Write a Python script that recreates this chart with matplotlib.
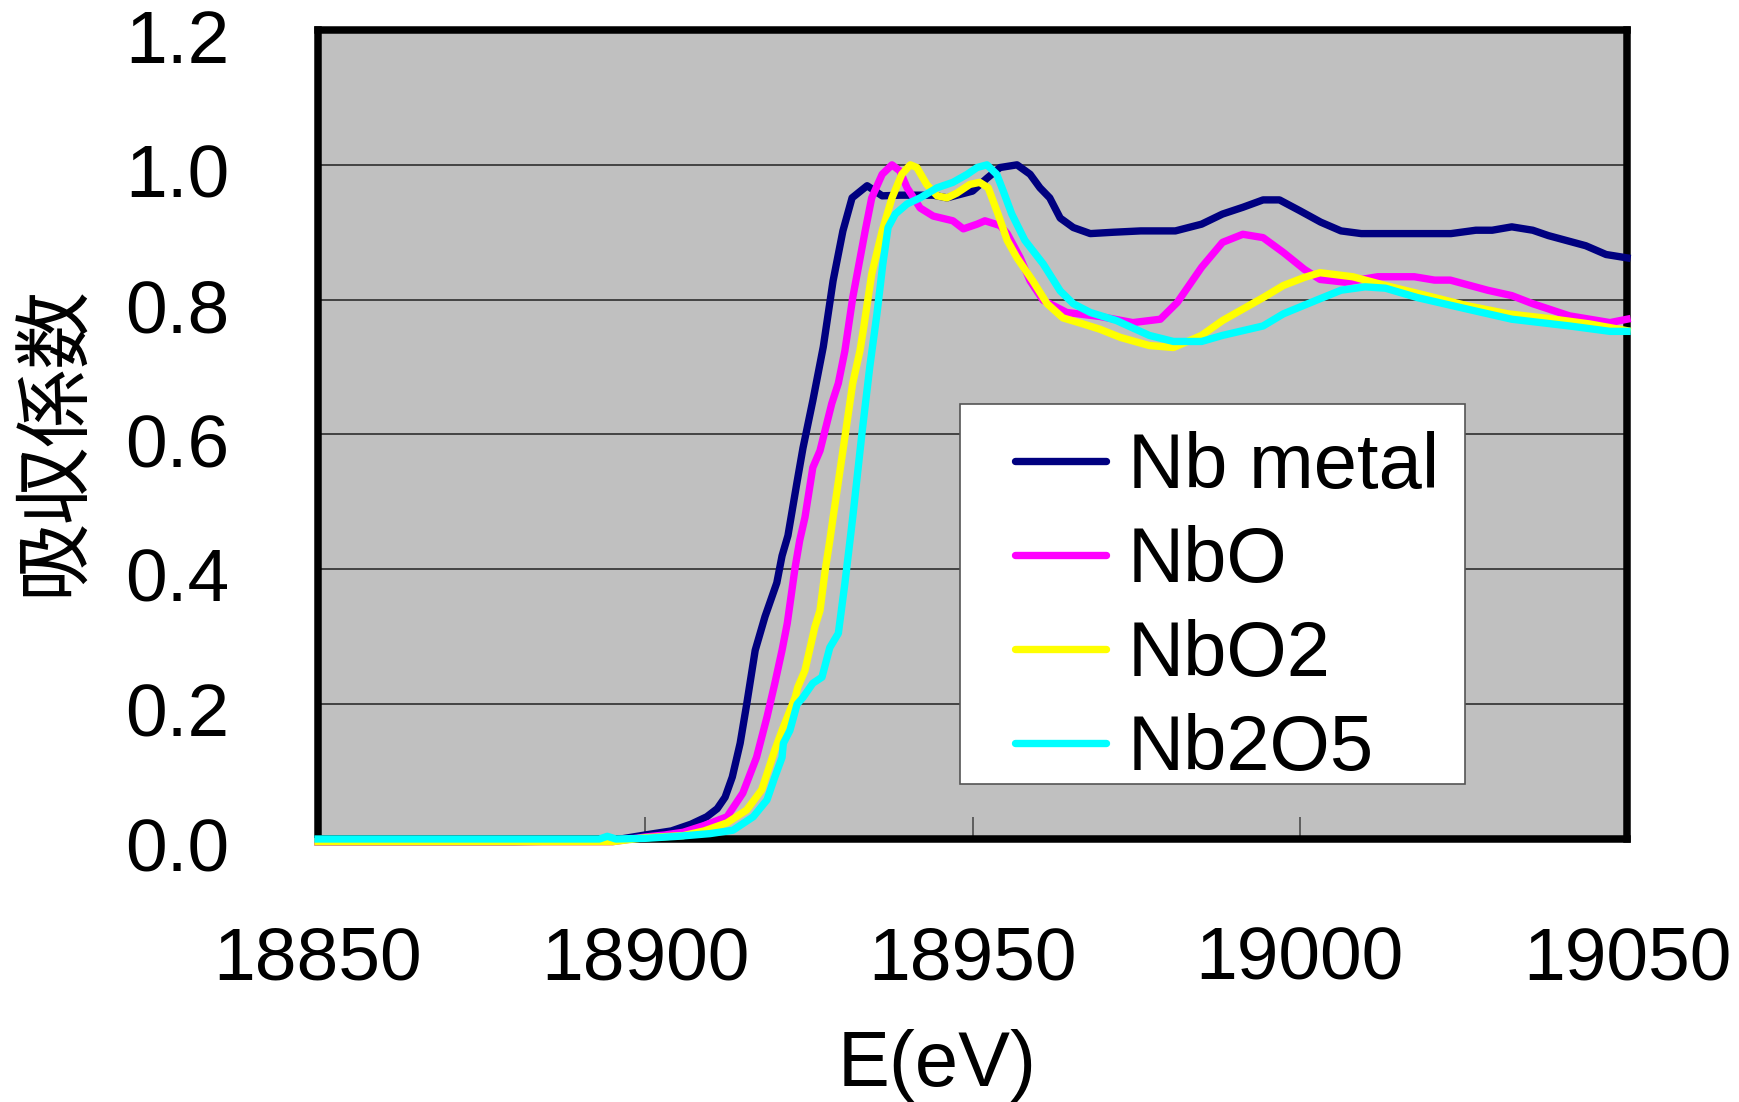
import numpy as np
import matplotlib
matplotlib.use("Agg")
import matplotlib.pyplot as plt
import matplotlib.transforms as mtransforms
from matplotlib.patches import Rectangle

plt.rcParams['font.family'] = ['Liberation Sans', 'Noto Sans CJK JP', 'DejaVu Sans']

# Nb metal
e_metal = [18850, 18880, 18895, 18900, 18904, 18907, 18909.4, 18911, 18912.2, 18913.3,
           18914.5, 18915.5, 18916.8, 18918.3, 18920.1, 18920.9, 18921.8, 18923.2, 18924.1, 18925.6,
           18927.2, 18928.7, 18930.2, 18931.6, 18933.9, 18936.2, 18939, 18944, 18946.1, 18950,
           18952.2, 18954.2, 18956.8, 18958.8, 18960.3, 18961.8, 18963.4, 18965.4, 18968, 18971.5,
           18975.7, 18981, 18985, 18988.2, 18991.3, 18994.4, 18996.9, 19000, 19003.2, 19006.3,
           19009.4, 19023.1, 19026.9, 19029.4, 19032.4, 19035.6, 19038, 19043.7, 19046.8, 19050]
mu_metal = [-0.004, -0.004, -0.002, 0.006, 0.012, 0.022, 0.033, 0.045, 0.062, 0.092,
            0.142, 0.2, 0.28, 0.33, 0.38, 0.42, 0.45, 0.53, 0.58, 0.65,
            0.73, 0.828, 0.902, 0.951, 0.969, 0.954, 0.955, 0.955, 0.951, 0.961,
            0.98, 0.996, 1.0, 0.986, 0.966, 0.951, 0.921, 0.907, 0.898, 0.9,
            0.902, 0.902, 0.912, 0.927, 0.937, 0.948, 0.948, 0.932, 0.915, 0.902,
            0.898, 0.898, 0.903, 0.903, 0.908, 0.903, 0.895, 0.880, 0.867, 0.862]

# NbO
e_nbo = [18850, 18895, 18900, 18903, 18905.8, 18909, 18912.5, 18914.9, 18917, 18918.6,
         18919.8, 18920.9, 18921.7, 18922.9, 18923.6, 18924.4, 18925.6, 18926.7, 18928.5, 18929.5,
         18930.5, 18931.7, 18933.6, 18934.6, 18936.2, 18937.7, 18938.9, 18940, 18942, 18944,
         18947, 18948.6, 18950.7, 18951.9, 18954.2, 18955.3, 18957.3, 18958.8, 18960.8, 18964.4,
         18969.5, 18974.5, 18978.7, 18981.3, 18985, 18988.2, 18991.3, 18994.4, 18997.5, 19000.7,
         19003.1, 19006.9, 19011.9, 19017.5, 19020.6, 19023, 19028.7, 19032.4, 19035.6, 19041.2,
         19047.4, 19050]
mu_nbo = [-0.004, -0.004, 0.003, 0.006, 0.01, 0.02, 0.033, 0.068, 0.121, 0.181,
          0.231, 0.28, 0.32, 0.403, 0.443, 0.477, 0.551, 0.576, 0.646, 0.676,
          0.724, 0.803, 0.902, 0.951, 0.986, 1.0, 0.991, 0.966, 0.936, 0.924,
          0.917, 0.905, 0.912, 0.917, 0.910, 0.898, 0.862, 0.828, 0.799, 0.781,
          0.775, 0.766, 0.771, 0.796, 0.848, 0.885, 0.897, 0.892, 0.870, 0.845,
          0.830, 0.826, 0.834, 0.834, 0.829, 0.829, 0.814, 0.806, 0.794, 0.776,
          0.766, 0.771]

# NbO2
e_nbo2 = [18850, 18895, 18900, 18905.8, 18909, 18912.5, 18915.5, 18917.8, 18919.8, 18920.9,
          18922.9, 18923.3, 18924.4, 18925.9, 18926.7, 18927.5, 18928.2, 18928.7, 18930.2, 18931.7,
          18932.8, 18933.3, 18934.6, 18936.2, 18937.7, 18939.2, 18940.5, 18941.5, 18943, 18944.6,
          18946.1, 18947.6, 18949.6, 18951.1, 18952.4, 18953.9, 18955.3, 18956.8, 18959.2, 18961.4,
          18963.8, 18966.9, 18969.5, 18972.6, 18977, 18980.7, 18985, 18988.2, 18994.4, 18997.5,
          19000.7, 19003.1, 19008.1, 19013.1, 19019.4, 19025.6, 19031.8, 19038.1, 19044.3, 19050]
mu_nbo2 = [-0.004, -0.004, 0.002, 0.005, 0.012, 0.024, 0.043, 0.073, 0.132, 0.161,
           0.21, 0.225, 0.25, 0.314, 0.339, 0.399, 0.443, 0.477, 0.576, 0.676,
           0.724, 0.754, 0.838, 0.902, 0.951, 0.986, 1.0, 0.996, 0.971, 0.954,
           0.951, 0.958, 0.971, 0.974, 0.966, 0.927, 0.888, 0.862, 0.828, 0.794,
           0.773, 0.764, 0.756, 0.744, 0.732, 0.729, 0.747, 0.769, 0.803, 0.821,
           0.833, 0.840, 0.834, 0.821, 0.806, 0.791, 0.779, 0.772, 0.764, 0.754]

# Nb2O5
e_nb2o5 = [18850, 18885, 18893, 18894.2, 18895.5, 18900, 18905, 18909.9, 18913.4, 18916.5,
           18918.6, 18919.8, 18920.9, 18921.1, 18922.1, 18923.2, 18924.1, 18925.6, 18927, 18928.2,
           18929.5, 18930.5, 18931.7, 18933.1, 18934.3, 18935.4, 18936.3, 18937.1, 18938.2, 18940,
           18942, 18944.6, 18947, 18949.2, 18950.7, 18952.2, 18953.7, 18954.7, 18956, 18958,
           18960.8, 18963.4, 18965.4, 18968, 18972, 18977, 18980.7, 18985, 18988.2, 18994.4,
           18997.5, 19002.5, 19006.3, 19010, 19013.1, 19018, 19025.6, 19032.4, 19041.2, 19047.4,
           19050]
mu_nb2o5 = [0, 0, 0, 0.004, 0, 0.001, 0.004, 0.008, 0.013, 0.033,
            0.058, 0.092, 0.121, 0.142, 0.161, 0.2, 0.21, 0.231, 0.24, 0.284,
            0.305, 0.379, 0.477, 0.601, 0.70, 0.779, 0.853, 0.907, 0.927, 0.942,
            0.951, 0.966, 0.974, 0.986, 0.996, 1.0, 0.986, 0.961, 0.927, 0.888,
            0.853, 0.813, 0.794, 0.781, 0.769, 0.747, 0.738, 0.738, 0.747, 0.761,
            0.779, 0.799, 0.814, 0.819, 0.817, 0.803, 0.786, 0.771, 0.761, 0.753,
            0.753]

series = [
    ("Nb metal", e_metal, mu_metal, "#000080"),
    ("NbO", e_nbo, mu_nbo, "#FF00FF"),
    ("NbO2", e_nbo2, mu_nbo2, "#FFFF00"),
    ("Nb2O5", e_nb2o5, mu_nb2o5, "#00FFFF"),
]

x_ticks = [18850, 18900, 18950, 19000, 19050]
y_ticks = [0.0, 0.2, 0.4, 0.6, 0.8, 1.0, 1.2]

fig = plt.figure(figsize=(17.39, 11.02), dpi=100)
ax = fig.add_axes([318 / 1739, 1 - 839 / 1102, 1309 / 1739, 809 / 1102])
ax.set_facecolor("#C0C0C0")

for name, e, mu, col in series:
    ax.plot(e, mu, color=col, lw=5.3, label=name, solid_joinstyle="round", zorder=3, clip_on=False)

ax.set_xlim(18850, 19050)
ax.set_ylim(0, 1.2)
ax.set_xticks(x_ticks)
ax.set_yticks(y_ticks)
ax.set_yticklabels([f"{v:.1f}" for v in y_ticks])
ax.grid(axis="y", color="#222222", lw=1.1)
ax.set_axisbelow(True)

for s in ax.spines.values():
    s.set_linewidth(5.4)
    s.set_color("black")
    s.set_zorder(2.5)

ax.tick_params(axis="both", direction="in", length=16, width=1.1, color="#444444", labelsize=54)
ax.tick_params(axis="y", pad=64)
ax.tick_params(axis="x", pad=62)

# y tick labels sit a little low in the original
shift = mtransforms.ScaledTranslation(0, -4 / 72, fig.dpi_scale_trans)
for lab in ax.get_yticklabels():
    lab.set_transform(lab.get_transform() + shift)

fig.text(55 / 1739, 1 - 440 / 1102, "吸収係数", rotation=90, ha="center", va="center",
         fontsize=56, family=["Noto Sans CJK JP"])
fig.text(937 / 1739, 1 - 1066 / 1102, "E(eV)", ha="center", va="center", fontsize=56)

# legend box drawn separately so padding matches the original
box = Rectangle(((960 - 318) / 1309, (839 - 784) / 809), 505 / 1309, 380 / 809,
                transform=ax.transAxes, facecolor="white", edgecolor="#555555", lw=1.2, zorder=4)
ax.add_patch(box)

leg = ax.legend(loc="upper left", bbox_to_anchor=((1015 - 318) / 1309, (839 - 431) / 809),
                borderaxespad=0, borderpad=0, fontsize=56, frameon=False,
                handlelength=1.17, handletextpad=0.28, labelspacing=0.27)
leg.set_zorder(5)
for h in leg.get_lines():
    h.set_linewidth(5.3)
    h.set_solid_capstyle("round")

fig.savefig("out.png", dpi=100, facecolor="white")
